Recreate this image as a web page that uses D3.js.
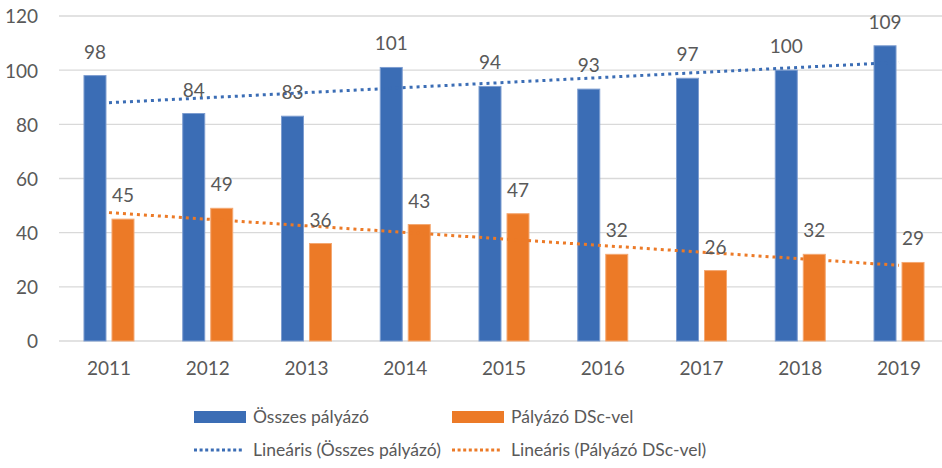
<!DOCTYPE html>
<html>
<head>
<meta charset="utf-8">
<script src="https://cdn.jsdelivr.net/npm/d3@7"></script>
<style>
  body { margin: 0; background: #fff; }
  text { font-family: Lato, sans-serif; fill: #595959; }
</style>
</head>
<body>
<div id="svg_container"></div>
<script>
// Data
const years = ["2011", "2012", "2013", "2014", "2015", "2016", "2017", "2018", "2019"];
const osszes = [98, 84, 83, 101, 94, 93, 97, 100, 109];
const dsc = [45, 49, 36, 43, 47, 32, 26, 32, 29];
const yTicks = [0, 20, 40, 60, 80, 100, 120];
const seriesNames = ["Összes pályázó", "Pályázó DSc-vel"];
const trendNames = ["Lineáris (Összes pályázó)", "Lineáris (Pályázó DSc-vel)"];

const blue = "#3B6DB5";
const orange = "#EC7A27";
const fontSize = 19;
const legendFont = 17.5;

// least squares fit, like the Excel trendline
function linearFit(values) {
    let xs = values.map((v, i) => i + 1);
    let mx = d3.mean(xs), my = d3.mean(values);
    let sxy = d3.sum(values, (v, i) => (xs[i] - mx) * (v - my));
    let sxx = d3.sum(xs, x => (x - mx) * (x - mx));
    let b = sxy / sxx;
    let a = my - b * mx;
    return values.map((v, i) => a + b * (i + 1));
}

function createChart() {
    let width = 942;
    let height = 468;
    const svg = d3.select("#svg_container").append("svg")
        .attr("width", width)
        .attr("height", height);

    const x = d3.scaleBand().domain(years).range([59.6, 948.4]);
    const y = d3.scaleLinear().domain([0, 120]).range([341, 16]);
    const barW = 22, gap = 6;

    // gridlines
    svg.append("g")
        .selectAll("line")
        .data(yTicks)
        .join("line")
        .attr("x1", 59)
        .attr("x2", width)
        .attr("y1", d => y(d))
        .attr("y2", d => y(d))
        .attr("stroke", "#D9D9D9")
        .attr("stroke-width", 1.3);

    // y axis labels
    const yAxis = d3.axisLeft(y).tickValues(yTicks).tickSize(0).tickPadding(0);
    svg.append("g")
        .attr("transform", "translate(38,0)")
        .call(yAxis)
        .call(g => g.select(".domain").remove())
        .call(g => g.selectAll("text")
            .attr("font-size", fontSize)
            .attr("font-family", "Lato")
            .attr("fill", "#595959")
            .attr("dy", "0.36em"));

    // x axis labels
    const xAxis = d3.axisBottom(x).tickSize(0).tickPadding(0);
    svg.append("g")
        .attr("transform", "translate(0,368)")
        .call(xAxis)
        .call(g => g.select(".domain").remove())
        .call(g => g.selectAll("text")
            .attr("font-size", fontSize)
            .attr("font-family", "Lato")
            .attr("fill", "#595959")
            .attr("dy", "0.36em"));

    const cx = d => x(d) + x.bandwidth() / 2;
    const series = [
        { values: osszes, color: blue, edge: "#7D9DD0", off: -(gap / 2 + barW / 2) },
        { values: dsc, color: orange, edge: "#F4A872", off: gap / 2 + barW / 2 }
    ];

    // bars
    series.forEach(s => {
        svg.append("g")
            .selectAll("rect")
            .data(s.values)
            .join("rect")
            .attr("x", (d, i) => cx(years[i]) + s.off - barW / 2)
            .attr("y", d => y(d))
            .attr("width", barW)
            .attr("height", d => y(0) - y(d))
            .attr("fill", s.color)
            .attr("stroke", s.edge)
            .attr("stroke-width", 1);
    });

    // trend lines
    const line = d3.line()
        .x((d, i) => cx(years[i]))
        .y(d => y(d));
    series.forEach(s => {
        svg.append("path")
            .datum(linearFit(s.values))
            .attr("d", line)
            .attr("fill", "none")
            .attr("stroke", s.color)
            .attr("stroke-width", 3)
            .attr("stroke-dasharray", "3 4");
    });

    // data labels
    series.forEach(s => {
        svg.append("g")
            .selectAll("text")
            .data(s.values)
            .join("text")
            .attr("x", (d, i) => cx(years[i]) + s.off)
            .attr("y", d => y(d) - 17)
            .attr("text-anchor", "middle")
            .attr("font-size", fontSize)
            .attr("fill", "#404040")
            .text(d => d);
    });

    // legend
    const legend = svg.append("g");
    const lx = [194, 452];
    seriesNames.forEach((name, i) => {
        legend.append("rect")
            .attr("x", lx[i])
            .attr("y", 411)
            .attr("width", 52)
            .attr("height", 12)
            .attr("fill", series[i].color);
        legend.append("text")
            .attr("x", lx[i] + 59)
            .attr("y", 417)
            .attr("dy", "0.36em")
            .attr("font-size", legendFont)
            .text(name);
    });
    trendNames.forEach((name, i) => {
        legend.append("line")
            .attr("x1", lx[i])
            .attr("x2", lx[i] + 50)
            .attr("y1", 450)
            .attr("y2", 450)
            .attr("stroke", series[i].color)
            .attr("stroke-width", 3)
            .attr("stroke-dasharray", "3 2.6");
        legend.append("text")
            .attr("x", lx[i] + 59)
            .attr("y", 450)
            .attr("dy", "0.36em")
            .attr("font-size", legendFont)
            .text(name);
    });
}

document.addEventListener("DOMContentLoaded", function (e) {
    createChart();
});
</script>
</body>
</html>
